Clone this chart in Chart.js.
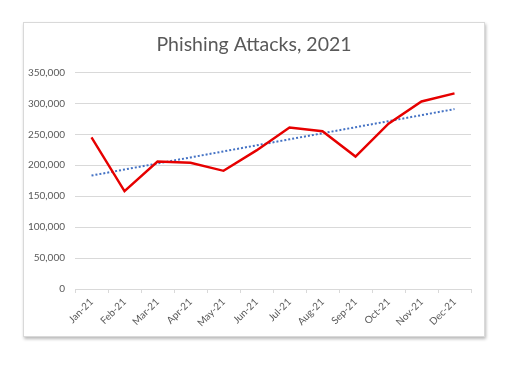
<!DOCTYPE html>
<html>
<head>
<meta charset="utf-8">
<script src="https://cdn.jsdelivr.net/npm/chart.js@4/dist/chart.umd.min.js"></script>
<style>
  html, body { margin: 0; padding: 0; background: #ffffff; }
  #wrap { position: relative; width: 512px; height: 365px; }
  #box { position: absolute; left: 23px; top: 22px; width: 460px; height: 313px;
         border: 1px solid #d9d9d9; box-shadow: 1px 2px 3px rgba(0,0,0,0.28); background: #fff; }
  #c { position: absolute; left: 0; top: 0; }
</style>
</head>
<body>
<div id="wrap">
  <div id="box"></div>
  <canvas id="c" width="512" height="365"></canvas>
</div>
<script>
const categories = ['Jan-21','Feb-21','Mar-21','Apr-21','May-21','Jun-21','Jul-21','Aug-21','Sep-21','Oct-21','Nov-21','Dec-21'];
const attacks = [245000, 158000, 206000, 204000, 191000, 224000, 261000, 255000, 214000, 267000, 303000, 316000];
const yTicks = [0, 50000, 100000, 150000, 200000, 250000, 300000, 350000];
const chartTitle = 'Phishing Attacks, 2021';

// Linear trendline (least squares) derived from the series, as in the original spreadsheet chart
const n = attacks.length;
const xm = (n - 1) / 2;
const ym = attacks.reduce((a, b) => a + b, 0) / n;
let sxy = 0, sxx = 0;
attacks.forEach((v, i) => { sxy += (i - xm) * (v - ym); sxx += (i - xm) * (i - xm); });
const slope = sxy / sxx;
const trend = attacks.map((v, i) => ym + slope * (i - xm));

const FONT = 'Lato, "Open Sans", "Liberation Sans", sans-serif';
const TXT = '#595959';

// centre the title over the whole chart box rather than over the plot area
const titleCentre = {
  id: 'titleCentre',
  afterLayout(chart) {
    const t = chart.titleBlock;
    if (t) { t.left = 37; t.right = 471; t.width = t.right - t.left; }
  }
};

new Chart(document.getElementById('c'), {
  type: 'line',
  data: {
    labels: categories,
    datasets: [
      { label: 'Attacks', data: attacks, borderColor: '#e60000', borderWidth: 2.4,
        pointRadius: 0, tension: 0, fill: false, order: 1 },
      { label: 'Trend', data: trend, borderColor: '#4472c4', borderWidth: 2,
        borderDash: [2, 2], pointRadius: 0, tension: 0, fill: false, order: 2 }
    ]
  },
  plugins: [titleCentre],
  options: {
    responsive: false,
    animation: false,
    devicePixelRatio: 1,
    layout: { padding: { left: 0, right: 41, top: 33, bottom: 0 } },
    plugins: {
      legend: { display: false },
      tooltip: { enabled: false },
      title: { display: true, text: chartTitle, color: TXT,
        font: { family: FONT, size: 19.5, weight: 'normal' }, padding: { top: 0, bottom: 16 } }
    },
    scales: {
      x: {
        offset: true,
        grid: { display: true, drawOnChartArea: false, drawTicks: true, tickLength: 4,
                offset: true, color: '#d9d9d9' },
        border: { display: true, color: '#d9d9d9', width: 1 },
        ticks: { color: TXT, font: { family: FONT, size: 10 }, maxRotation: 45, minRotation: 45,
                 padding: 3, autoSkip: false },
        afterFit(scale) { scale.height = 76; }
      },
      y: {
        min: 0, max: 350000,
        afterBuildTicks(scale) { scale.ticks = yTicks.map(v => ({ value: v })); },
        grid: { color: '#d9d9d9', drawTicks: false, lineWidth: 1 },
        border: { display: false },
        ticks: { color: TXT, font: { family: FONT, size: 10 }, padding: 10,
                 callback: v => v.toLocaleString('en-US') },
        afterFit(scale) { scale.width = 75; }
      }
    }
  }
});
</script>
</body>
</html>
